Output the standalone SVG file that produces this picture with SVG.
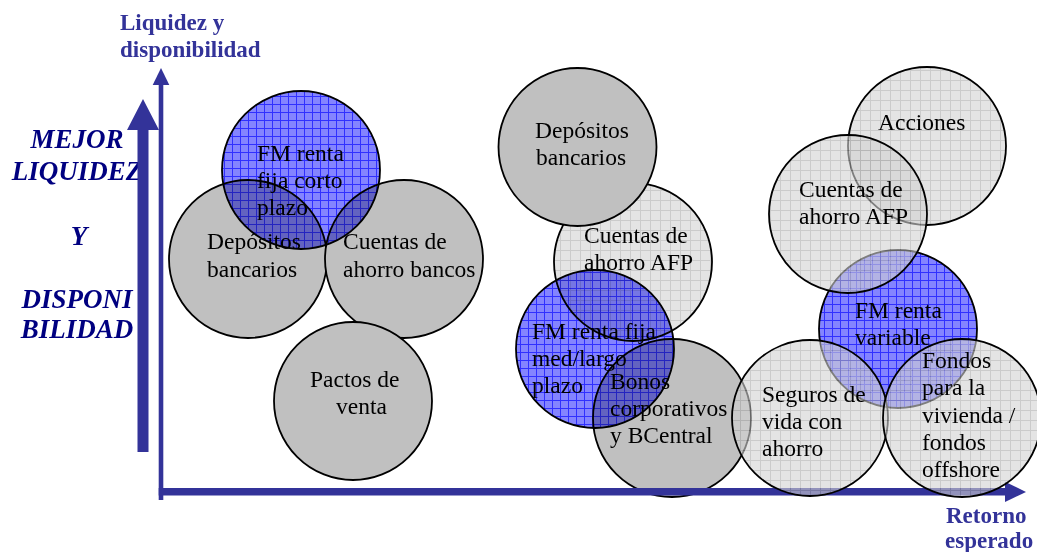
<svg xmlns="http://www.w3.org/2000/svg" width="1037" height="552" viewBox="0 0 1037 552">
<style>
.t{font-family:"Liberation Serif","Times New Roman",serif;font-size:23.5px;fill:#000}
.ax{font-family:"Liberation Serif","Times New Roman",serif;font-weight:bold;font-size:23px;fill:#333399}
.mj{font-family:"Liberation Serif","Times New Roman",serif;font-weight:bold;font-style:italic;font-size:27px;fill:#000080;text-anchor:middle}
.c{stroke:#000;stroke-width:1.8}
.g{fill:#C0C0C0}
.b{fill:url(#blue);mix-blend-mode:multiply}
.l{fill:url(#lgrey);fill-opacity:0.6}
.axis{fill:#333399}
</style>
<defs>
<pattern id="blue" patternUnits="userSpaceOnUse" width="8" height="8">
<rect width="8" height="8" fill="#8484FF"/>
<path d="M0 0.5H8M0.5 0V8" stroke="#3030FF" stroke-width="1"/>
</pattern>
<pattern id="lgrey" patternUnits="userSpaceOnUse" width="10" height="10">
<rect width="10" height="10" fill="#D2D2D2"/>
<path d="M0 0.5H10M0.5 0V10" stroke="#A8A8A8" stroke-width="1"/>
</pattern>
</defs>
<rect width="1037" height="552" fill="#fff"/>

<g id="labels">
<text class="ax" x="120" y="30">Liquidez y</text>
<text class="ax" x="120" y="57">disponibilidad</text>
<text class="ax" x="946" y="523">Retorno</text>
<text class="ax" x="945" y="548">esperado</text>
<text class="mj" x="77" y="148">MEJOR</text>
<text class="mj" x="77" y="180">LIQUIDEZ</text>
<text class="mj" x="79" y="245">Y</text>
<text class="mj" x="77" y="308">DISPONI</text>
<text class="mj" x="77" y="338">BILIDAD</text>
</g>

<g id="big-arrow">
<polygon class="axis" points="143,99 159,130 148.5,130 148.5,452 137.5,452 137.5,130 127,130"/>
</g>

<g id="node-depositos-l">
<circle class="c g" cx="248" cy="259" r="79"/>
<text class="t"><tspan x="207" y="249">Depósitos</tspan><tspan x="207" y="277">bancarios</tspan></text>
</g>
<g id="node-cuentas-bancos">
<circle class="c g" cx="404" cy="259" r="79"/>
<text class="t"><tspan x="343" y="249">Cuentas de</tspan><tspan x="343" y="277">ahorro bancos</tspan></text>
</g>
<g id="node-pactos">
<circle class="c g" cx="353" cy="401" r="79"/>
<text class="t"><tspan x="310" y="387">Pactos de</tspan><tspan x="336" y="414">venta</tspan></text>
</g>
<g id="node-fm-corto">
<circle class="c b" cx="301" cy="170" r="79"/>
<text class="t"><tspan x="257" y="161">FM renta</tspan><tspan x="257" y="188">fija corto</tspan><tspan x="257" y="215">plazo</tspan></text>
</g>

<g id="node-cuentas-afp-m">
<circle class="c l" cx="633" cy="262" r="79"/>
<text class="t"><tspan x="584" y="243">Cuentas de</tspan><tspan x="584" y="270">ahorro AFP</tspan></text>
</g>
<g id="node-depositos-m">
<circle class="c g" cx="577.5" cy="147" r="79"/>
<text class="t"><tspan x="535" y="138">Depósitos</tspan><tspan x="536" y="165">bancarios</tspan></text>
</g>
<g id="node-bonos">
<circle class="c g" cx="672" cy="418" r="79"/>
<text class="t"><tspan x="610" y="389">Bonos</tspan><tspan x="610" y="416">corporativos</tspan><tspan x="610" y="443">y BCentral</tspan></text>
</g>
<g id="node-fm-med">
<circle class="c b" cx="595" cy="349" r="79"/>
<text class="t"><tspan x="532" y="339">FM renta fija</tspan><tspan x="532" y="366">med/largo</tspan><tspan x="532" y="393">plazo</tspan></text>
</g>

<g id="connectors">
<rect class="axis" x="158.7" y="84" width="4.6" height="416"/>
<polygon class="axis" points="161,68 169.3,85 152.7,85"/>
<rect class="axis" x="158.7" y="488" width="848" height="7.5"/>
<polygon class="axis" points="1026,492 1005,481.7 1005,502"/>
</g>

<g id="node-acciones">
<circle class="c l" cx="927" cy="146" r="79"/>
<text class="t" x="878" y="130">Acciones</text>
</g>
<g id="node-fm-variable">
<circle class="c b" cx="898" cy="329" r="79"/>
<text class="t"><tspan x="855" y="318">FM renta</tspan><tspan x="855" y="345">variable</tspan></text>
</g>
<g id="node-cuentas-afp-r">
<circle class="c l" cx="848" cy="214" r="79"/>
<text class="t"><tspan x="799" y="197">Cuentas de</tspan><tspan x="799" y="224">ahorro AFP</tspan></text>
</g>
<g id="node-seguros">
<circle class="c l" cx="810" cy="418" r="78"/>
<text class="t"><tspan x="762" y="402">Seguros de</tspan><tspan x="762" y="429">vida con</tspan><tspan x="762" y="456">ahorro</tspan></text>
</g>
<g id="node-fondos">
<circle class="c l" cx="962" cy="418" r="79"/>
<text class="t"><tspan x="922" y="368">Fondos</tspan><tspan x="922" y="395">para la</tspan><tspan x="922" y="423">vivienda /</tspan><tspan x="922" y="450">fondos</tspan><tspan x="922" y="477">offshore</tspan></text>
</g>
</svg>
